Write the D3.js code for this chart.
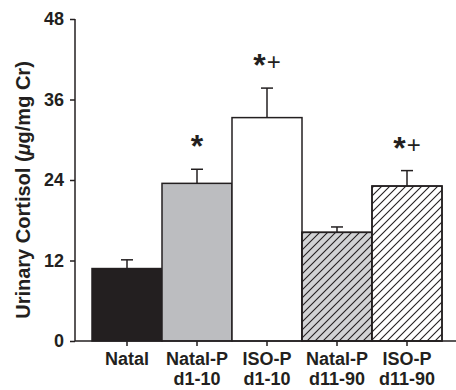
<!DOCTYPE html>
<html><head><meta charset="utf-8">
<script src="https://cdn.jsdelivr.net/npm/d3@7"></script>
<style>body{margin:0;background:#fff}svg{display:block}</style>
</head><body><svg id="c" width="456" height="390"></svg>
<script>
const categories = ["Natal", "Natal-P d1-10", "ISO-P d1-10", "Natal-P d11-90", "ISO-P d11-90"];
const labelLine1 = ["Natal", "Natal-P", "ISO-P", "Natal-P", "ISO-P"];
const labelLine2 = ["", "d1-10", "d1-10", "d11-90", "d11-90"];
const means = [10.8, 23.5, 33.3, 16.2, 23.1];
const errors = [1.3, 2.1, 4.4, 0.8, 2.3];
const marks = ["", "*", "*+", "", "*+"];
const fills = ["#231f20", "#bcbdc0", "#ffffff", "#d2d3d5", "#ffffff"];
const hatched = [false, false, false, true, true];
const yTicks = [0, 12, 24, 36, 48];

const svg = d3.select("#c");
const ink = "#231f20";
const x = d3.scaleBand().domain(categories).range([92, 442]).paddingInner(0).paddingOuter(0);
const y = d3.scaleLinear().domain([0, 48]).range([341, 19]);

const defs = svg.append("defs");
const pat = defs.append("pattern").attr("id", "hatch").attr("patternUnits", "userSpaceOnUse")
  .attr("width", 8).attr("height", 8);
pat.append("path").attr("d", "M-2,2 L2,-2 M0,8 L8,0 M6,10 L10,6")
  .attr("stroke", ink).attr("stroke-width", 1.1);

const g = svg.append("g");
categories.forEach((c, i) => {
  const x0 = x(c), w = x.bandwidth(), y0 = y(means[i]);
  g.append("rect").attr("x", x0).attr("y", y0).attr("width", w).attr("height", y(0) - y0)
    .attr("fill", fills[i]).attr("stroke", ink).attr("stroke-width", 1.5);
  if (hatched[i]) {
    g.append("rect").attr("x", x0).attr("y", y0).attr("width", w).attr("height", y(0) - y0)
      .attr("fill", "url(#hatch)").attr("stroke", ink).attr("stroke-width", 1.5);
  }
  const cx = x0 + w / 2, ye = y(means[i] + errors[i]);
  g.append("line").attr("x1", cx).attr("x2", cx).attr("y1", y0).attr("y2", ye)
    .attr("stroke", ink).attr("stroke-width", 1.5);
  g.append("line").attr("x1", cx - 6).attr("x2", cx + 6).attr("y1", ye).attr("y2", ye)
    .attr("stroke", ink).attr("stroke-width", 1.5);
  if (marks[i]) {
    const t = g.append("text").attr("x", cx).attr("y", ye - 12)
      .attr("text-anchor", "middle").attr("fill", ink)
      .style("font-family", "Liberation Sans, Arial, sans-serif");
    t.append("tspan").text("*").style("font-size", "32px").style("font-weight", "bold");
    if (marks[i].includes("+")) {
      t.append("tspan").text("+").style("font-size", "24px").attr("dx", 1).attr("dy", -6);
    }
  }
});

// y axis
const ya = svg.append("g").attr("transform", "translate(75,0)")
  .call(d3.axisLeft(y).tickValues(yTicks).tickSize(5).tickPadding(6));
ya.select(".domain").attr("d", `M0,${y(48)}V${y(0)}`).attr("stroke", ink).attr("stroke-width", 1.5);
ya.selectAll(".tick line").attr("stroke", ink).attr("stroke-width", 1.5);
ya.selectAll(".tick text").attr("fill", ink)
  .style("font-family", "Liberation Sans, Arial, sans-serif").style("font-size", "18px").style("font-weight", "bold");

// x axis
const xa = svg.append("g").attr("transform", `translate(0,${y(0)})`)
  .call(d3.axisBottom(x).tickSize(5).tickFormat(""));
xa.select(".domain").attr("d", "M75,0H456").attr("stroke", ink).attr("stroke-width", 1.5);
xa.selectAll(".tick line").attr("stroke", ink).attr("stroke-width", 1.5);
categories.forEach((c, i) => {
  const cx = x(c) + x.bandwidth() / 2;
  const t = svg.append("text").attr("x", cx).attr("text-anchor", "middle").attr("fill", ink)
    .style("font-family", "Liberation Sans, Arial, sans-serif").style("font-size", "18px").style("font-weight", "bold");
  t.append("tspan").attr("x", cx).attr("y", 365).text(labelLine1[i]);
  if (labelLine2[i]) t.append("tspan").attr("x", cx).attr("y", 385).text(labelLine2[i]);
});

// y title
const yt = svg.append("text").attr("transform", "translate(30,190) rotate(-90)")
  .attr("text-anchor", "middle").attr("fill", ink)
  .style("font-family", "Liberation Sans, Arial, sans-serif").style("font-size", "20px").style("font-weight", "bold");
yt.append("tspan").text("Urinary Cortisol (");
yt.append("tspan").text("μ").style("font-style", "italic");
yt.append("tspan").text("g/mg Cr)");
</script></body></html>
